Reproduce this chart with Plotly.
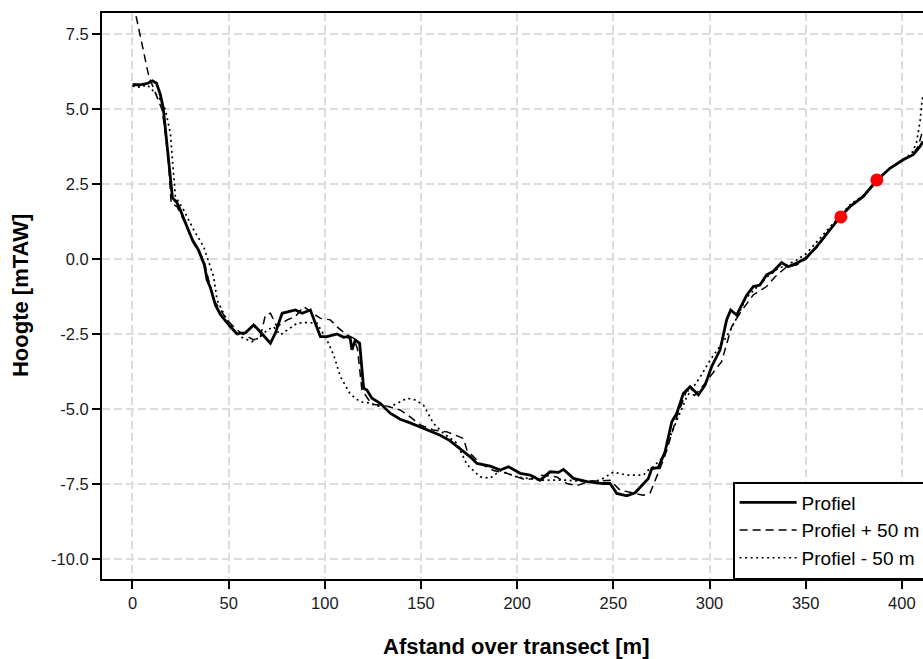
import plotly.graph_objects as go

# ---- data ----
profiel_x = [0, 4, 8, 10.4, 12.5, 14.5, 16, 17.7, 19.7, 20.8, 22.9, 24.9, 28, 31.2, 34.3, 37.4,
             38.8, 40.5, 43.1, 45.7, 50.9, 54.4, 56.1, 58.7, 63.0, 65.6, 71.7, 74.3, 77.8, 80.4,
             84.7, 88.2, 92.5, 97.7, 101.1, 104.6, 106.3, 109.8, 111.5, 113.2, 114.1, 115.8, 118.1,
             120.2, 121.9, 124.5, 128.8, 134.0, 139.2, 144.4, 153.1, 160.0, 165.0, 170.4, 175.6,
             179.1, 186.0, 191.2, 195.5, 201.6, 206.8, 211.9, 217.1, 221.5, 224.1, 229.3, 236.2,
             244.8, 248.3, 251.8, 257.0, 261.3, 265.6, 268.2, 270.0, 273.4, 276.9, 280.4, 283.0,
             286.4, 289.9, 294.2, 297.7, 301.1, 305.5, 308.9, 311.0, 314.1, 316.8, 319.4, 322.8,
             326.2, 329.7, 333.1, 337.5, 340.9, 345.3, 350.0, 355.7, 362.6, 367.8, 373.0, 380.0,
             386.9, 393.8, 400.7, 405.9, 409.4, 411.0]
profiel_y = [5.8, 5.8, 5.85, 5.93, 5.85, 5.47, 5.03, 3.97, 2.63, 2.03, 1.9, 1.63, 1.13, 0.63, 0.3, -0.2,
             -0.7, -0.95, -1.53, -1.85, -2.26, -2.5, -2.47, -2.46, -2.2, -2.37, -2.81, -2.47, -1.81, -1.76,
             -1.7, -1.81, -1.7, -2.59, -2.59, -2.53, -2.5, -2.61, -2.59, -2.64, -3.03, -2.7, -2.81,
             -4.31, -4.37, -4.64, -4.81, -5.14, -5.34, -5.46, -5.68, -5.87, -6.05, -6.31, -6.59,
             -6.81, -6.9, -7.03, -6.92, -7.14, -7.2, -7.37, -7.09, -7.11, -7.01, -7.31, -7.42,
             -7.48, -7.48, -7.81, -7.89, -7.79, -7.48, -7.31, -6.98, -6.95, -6.42, -5.42, -5.14,
             -4.48, -4.26, -4.53, -4.2, -3.59, -3.03, -2.03, -1.7, -1.87, -1.53, -1.2, -0.92,
             -0.87, -0.53, -0.42, -0.12, -0.26, -0.14, 0.02, 0.41, 0.97, 1.39, 1.74, 2.08,
             2.61, 3.02, 3.3, 3.47, 3.74, 3.91]

plus50_x = [0, 2.1, 8.5, 10, 12.8, 15.4, 17.1, 18.9, 20.1, 23.2, 26.6, 31.8, 37, 42.2, 49.2, 52.6, 56,
            59.6, 63, 66.5, 69.1, 71.7, 75.2, 80.4, 84.7, 89, 92.5, 97.7, 102.9, 106.3, 111.5, 115,
            117, 119.3, 124.5, 130.5, 139.2, 144.4, 149.6, 156.5, 163.5, 172.1, 173.9, 180.8, 187.7,
            194.6, 205, 211.9, 220.6, 225.8, 231, 237.9, 243.1, 248.3, 253.5, 260.4, 265.6, 269.1,
            272.6, 276, 277.8, 283, 288.2, 292.2, 297, 303.7, 306.3, 311.5, 315.8, 322.7, 329.7,
            334, 340.1, 345.3, 350.5, 356, 362.6, 367.8, 373, 380, 386.9, 393.8, 400.7, 405.9,
            408.5, 411]
plus50_y = [8.5, 8.02, 6.08, 5.85, 5.41, 4.97, 4.19, 3.08, 1.86, 1.74, 1.3, 0.52, -0.03, -1.37, -2.03,
            -2.26, -2.45, -2.59, -2.7, -2.59, -1.87, -1.81, -2.26, -2.03, -1.92, -1.59, -1.75, -1.98,
            -2.03, -2.26, -2.53, -2.64, -3.0, -4.37, -4.85, -4.87, -5.03, -5.26, -5.53, -5.7, -5.76,
            -5.98, -6.37, -6.81, -7.05, -7.14, -7.37, -7.2, -7.26, -7.48, -7.55, -7.4, -7.4, -7.37,
            -7.7, -7.81, -7.87, -7.8, -7.26, -6.7, -6.37, -5.26, -4.37, -4.55, -4.2, -3.64, -3.42,
            -2.26, -1.81, -1.2, -0.92, -0.6, -0.26, -0.2, 0.02, 0.4, 0.95, 1.38, 1.74, 2.08, 2.6,
            3.02, 3.3, 3.5, 3.75, 4.3]

min50_x = [0, 4, 7.6, 11.9, 14.5, 17.1, 19.7, 21.1, 22.3, 26.6, 31.8, 37, 42.2, 44, 48, 52, 56.1,
           62.2, 66.5, 70, 73.4, 76.9, 80.4, 85.6, 90.8, 95.9, 101.1, 104.6, 108.1, 113.2, 118.4,
           123.6, 128, 134, 138, 142.7, 147, 151.3, 156.5, 161.7, 168.7, 173.9, 180.8, 186, 191.2,
           199.8, 211.9, 225.8, 236.2, 243.1, 250, 257, 265.6, 268.2, 270.8, 276, 279.5, 283, 288.2,
           295.3, 300.3, 308.9, 314.1, 319, 325, 330, 335, 340, 345, 350.5, 357.4, 362.6, 367.8,
           373, 380, 386.9, 393.8, 400.7, 405, 407.6, 409.5, 410.2, 411]
min50_y = [5.75, 5.72, 5.8, 5.52, 5.3, 4.97, 4.19, 3.08, 2.08, 1.63, 0.97, 0.41, -0.59, -1.37, -1.9,
           -2.3, -2.59, -2.76, -2.59, -2.37, -2.26, -2.53, -2.37, -2.14, -2.12, -2.14, -2.7, -3.2,
           -3.92, -4.5, -4.76, -4.8, -4.9, -4.92, -4.8, -4.64, -4.7, -4.87, -5.48, -5.81, -6.14,
           -6.85, -7.26, -7.3, -7.05, -7.26, -7.37, -7.37, -7.42, -7.37, -7.1, -7.2, -7.2, -7.03,
           -6.92, -6.59, -5.92, -5.37, -4.59, -3.92, -3.37, -2.59, -1.98, -1.3, -0.9, -0.6, -0.35,
           -0.2, -0.05, 0.19, 0.69, 1.05, 1.45, 1.8, 2.12, 2.6, 3.02, 3.3, 3.5, 3.86, 4.6, 5.08, 5.5]

punten_x = [368.3, 387.0]
punten_y = [1.4, 2.63]

x_ticks = [0, 50, 100, 150, 200, 250, 300, 350, 400]
y_ticks = [-10.0, -7.5, -5.0, -2.5, 0.0, 2.5, 5.0, 7.5]

FONT = "Liberation Sans, Arial, sans-serif"

fig = go.Figure()
fig.add_trace(go.Scatter(x=profiel_x, y=profiel_y, mode="lines", name="Profiel",
                         line=dict(color="black", width=2.8)))
fig.add_trace(go.Scatter(x=plus50_x, y=plus50_y, mode="lines", name="Profiel + 50 m",
                         line=dict(color="black", width=1.5, dash="8px,5px")))
fig.add_trace(go.Scatter(x=min50_x, y=min50_y, mode="lines", name="Profiel - 50 m",
                         line=dict(color="black", width=1.7, dash="2px,3.5px")))
fig.add_trace(go.Scatter(x=punten_x, y=punten_y, mode="markers", showlegend=False,
                         marker=dict(color="red", size=13, line=dict(width=0))))

grid = dict(showgrid=True, gridcolor="#dcdcdc", gridwidth=1.5, griddash="8px,4px",
            zeroline=False, showline=True, linecolor="black", linewidth=2,
            ticks="outside", ticklen=8, tickwidth=2, tickcolor="black",
            tickfont=dict(family=FONT, size=16.5, color="#1a1a1a"))

fig.update_layout(
    width=923, height=659,
    margin=dict(l=102, r=0, t=13, b=80, autoexpand=False),
    paper_bgcolor="white", plot_bgcolor="white",
    font=dict(family=FONT, color="black"),
    xaxis=dict(range=[-15.84, 411.0], tickvals=x_ticks, ticktext=[str(v) for v in x_ticks],
               mirror=True, **grid),
    yaxis=dict(range=[-10.66, 8.19], tickvals=y_ticks, ticktext=[f"{v:.1f}" for v in y_ticks],
               **grid),
    legend=dict(x=0.7687, y=0, xanchor="left", yanchor="bottom",
                bgcolor="white", bordercolor="black", borderwidth=1.5,
                itemwidth=57,
                font=dict(family=FONT, size=19, color="black"), tracegroupgap=0),
    showlegend=True,
    annotations=[
        dict(text="<b>Afstand over transect [m]</b>", xref="paper", yref="paper",
             x=0.505, y=-0.1184, xanchor="center", yanchor="middle", showarrow=False,
             font=dict(family=FONT, size=22, color="black")),
        dict(text="<b>Hoogte [mTAW]</b>", xref="paper", yref="paper", textangle=-90,
             x=-0.0998, y=0.5, xanchor="center", yanchor="middle", showarrow=False,
             font=dict(family=FONT, size=22, color="black")),
    ],
)

fig.write_html("out.html")
